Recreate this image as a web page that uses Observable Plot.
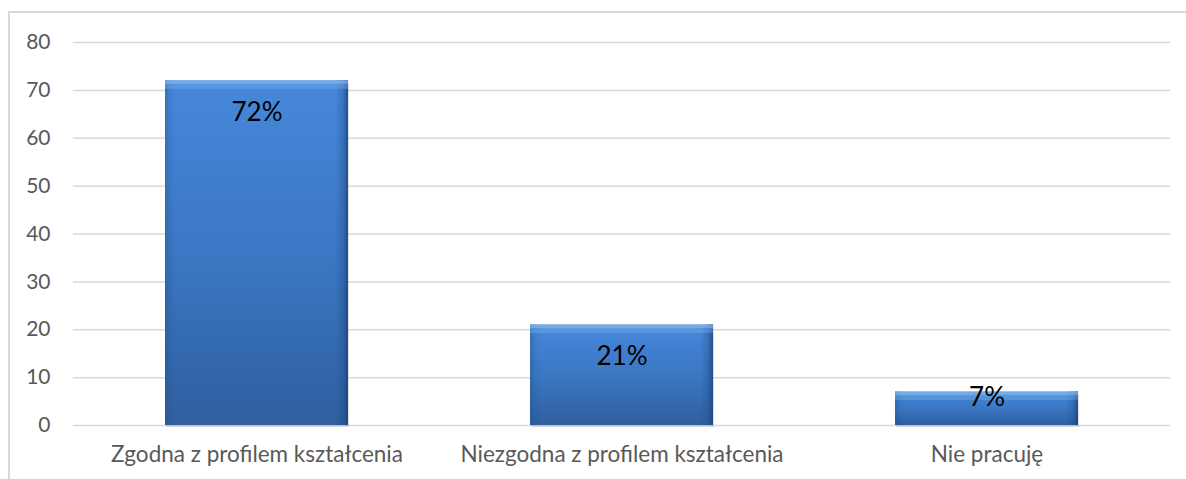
<!DOCTYPE html>
<html>
<head>
<meta charset="utf-8">
<script src="https://cdn.jsdelivr.net/npm/d3@7"></script>
<script src="https://cdn.jsdelivr.net/npm/@observablehq/plot@0.6"></script>
<style>
  html, body { margin: 0; padding: 0; background: #fff; }
  #wrap { position: relative; width: 1186px; height: 479px; overflow: hidden; }
  #frame { position: absolute; left: 8px; top: 11px; right: -4px; bottom: -4px;
           border-left: 2px solid #d9d9d9; border-top: 2px solid #d9d9d9; pointer-events: none; }
  svg { display: block; }
</style>
</head>
<body>
<div id="wrap"><div id="frame"></div></div>
<script>
const categories = ["Zgodna z profilem kształcenia", "Niezgodna z profilem kształcenia", "Nie pracuję"];
const values = [72, 21, 7];
const labels = ["72%", "21%", "7%"];
const yTicks = [0, 10, 20, 30, 40, 50, 60, 70, 80];

const data = categories.map((c, i) => ({category: c, value: values[i], label: labels[i]}));

const svg = Plot.plot({
  width: 1186,
  height: 479,
  marginLeft: 73,
  marginRight: 16,
  marginTop: 42,
  marginBottom: 54,
  style: {fontFamily: "Lato, 'Open Sans', sans-serif", background: "transparent"},
  x: {domain: categories, paddingInner: 0.5, paddingOuter: 0.25, label: null},
  y: {domain: [0, 80], label: null},
  marks: [
    Plot.ruleY(yTicks, {stroke: "#d9d9d9", strokeWidth: 1.5}),
    Plot.axisY({ticks: yTicks, tickSize: 0, tickPadding: 23, fontSize: 21, fill: "#595959", label: null}),
    Plot.axisX({tickSize: 0, tickPadding: 21, fontSize: 22.5, fill: "#595959", label: null}),
    // shadow
    Plot.barY(data, {x: "category", y: "value", fill: "#000", fillOpacity: 0.12, dy: 2, dx: 1}),
    Plot.barY(data, {x: "category", y: "value", fill: "url(#barBody)"}),
    Plot.barY(data, {x: "category", y: "value", fill: "url(#barSide)"}),
    Plot.tickY(data, {x: "category", y: "value", stroke: "#7fb4ee", strokeOpacity: 0.35, strokeWidth: 8, dy: 4}),
    Plot.tickY(data, {x: "category", y: "value", stroke: "#8fc0f2", strokeOpacity: 0.5, strokeWidth: 3, dy: 1.5}),
    Plot.text(data.filter(d => d.value >= 10), {x: "category", y: "value", text: "label", dy: 32, fontSize: 26, fill: "#000"}),
    Plot.text(data.filter(d => d.value < 10), {x: "category", y: "value", text: "label", dy: 6, fontSize: 26, fill: "#000"})
  ]
});

d3.select(svg).insert("defs", ":first-child").html(`
  <linearGradient id="barBody" x1="0" y1="0" x2="0" y2="1">
    <stop offset="0" stop-color="#4688da"/>
    <stop offset="0.5" stop-color="#3b77c4"/>
    <stop offset="1" stop-color="#2f5f9f"/>
  </linearGradient>
  <linearGradient id="barSide" x1="0" y1="0" x2="1" y2="0">
    <stop offset="0" stop-color="#1d4a85" stop-opacity="0.35"/>
    <stop offset="0.03" stop-color="#1d4a85" stop-opacity="0.1"/>
    <stop offset="0.06" stop-color="#1d4a85" stop-opacity="0"/>
    <stop offset="0.93" stop-color="#1d4a85" stop-opacity="0"/>
    <stop offset="0.97" stop-color="#1d4a85" stop-opacity="0.3"/>
    <stop offset="1" stop-color="#133a6e" stop-opacity="0.7"/>
  </linearGradient>
`);

document.getElementById("wrap").insertBefore(svg, document.getElementById("frame"));
</script>
</body>
</html>
